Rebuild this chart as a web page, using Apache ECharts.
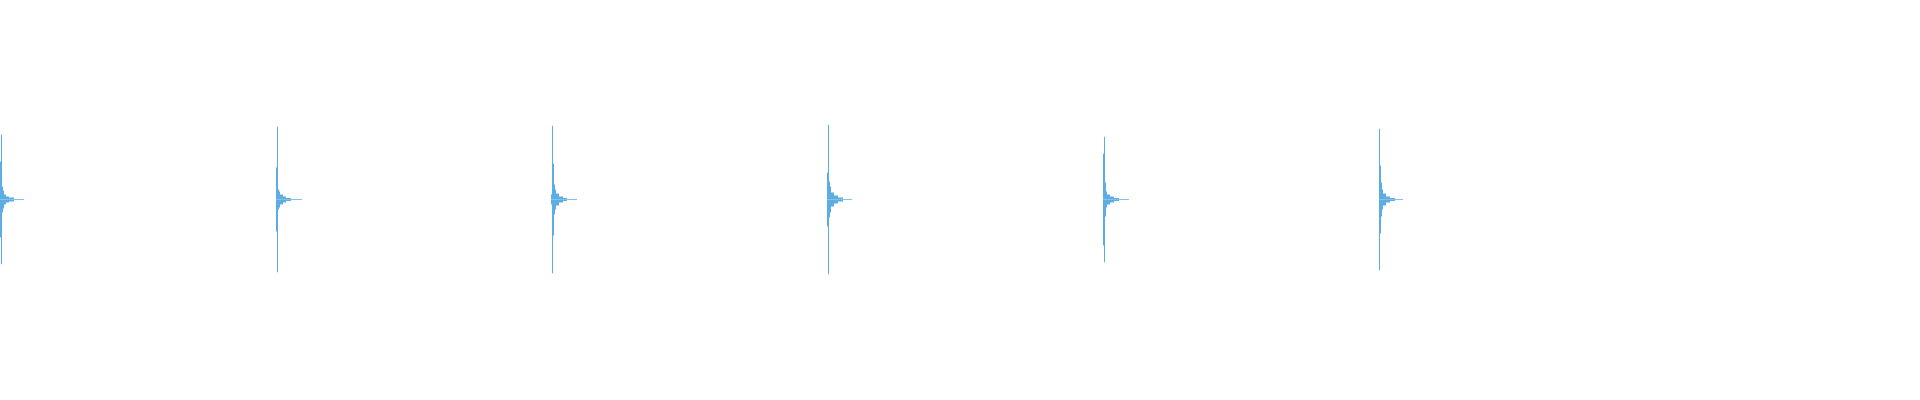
<!DOCTYPE html>
<html>
<head>
<meta charset="utf-8">
<script src="https://cdn.jsdelivr.net/npm/echarts@6/dist/echarts.min.js"></script>
<style>
  html, body { margin: 0; padding: 0; background: #ffffff; }
  #chart { width: 1920px; height: 400px; }
</style>
</head>
<body>
<div id="chart"></div>
<script>
// Waveform drawn as one bar per pixel column (peak envelope, symmetric about 0)
const totalColumns = 1920;

// first column of each hit
const hitStarts = [0, 276, 551, 827, 1103, 1379];

// peak amplitude per column for each hit (full scale = 1)
const hit1Amp = [0.19, 0.325, 0.065, 0.045, 0.025, 0.025, 0.015, 0.015, 0.015, 0.01, 0.01, 0.01, 0.01, 0.01,
  0.003, 0.003, 0.003, 0.003, 0.003, 0.003, 0.003, 0.003, 0.003, 0.003];
const hit2Amp = [0.16, 0.365, 0.05, 0.04, 0.025, 0.025, 0.025, 0.015, 0.015, 0.015, 0.0075, 0.0075, 0.0075, 0.0075, 0.0075,
  0.003, 0.003, 0.003, 0.003, 0.003, 0.003, 0.003, 0.003, 0.003, 0.003, 0.003];
const hit3Amp = [0.025, 0.37, 0.18, 0.075, 0.05, 0.03, 0.03, 0.03, 0.015, 0.015, 0.015, 0.015, 0.0075, 0.0075, 0.0075, 0.0075,
  0.003, 0.003, 0.003, 0.003, 0.003, 0.003, 0.003, 0.003, 0.003, 0.003];
const hit4Amp = [0.135, 0.375, 0.09, 0.065, 0.035, 0.035, 0.035, 0.02, 0.02, 0.02, 0.02, 0.01, 0.01, 0.01, 0.01, 0.01,
  0.003, 0.003, 0.003, 0.003, 0.003, 0.003, 0.003, 0.003, 0.003];
const hit5Amp = [0.23, 0.315, 0.085, 0.04, 0.025, 0.025, 0.025, 0.015, 0.015, 0.015, 0.015, 0.0075, 0.0075, 0.0075, 0.0075, 0.0075,
  0.003, 0.003, 0.003, 0.003, 0.003, 0.003, 0.003, 0.003, 0.003, 0.003];
const hit6Amp = [0.355, 0.17, 0.085, 0.05, 0.03, 0.03, 0.03, 0.015, 0.015, 0.015, 0.015, 0.0075, 0.0075, 0.0075, 0.0075, 0.0075,
  0.003, 0.003, 0.003, 0.003, 0.003, 0.003, 0.003, 0.003];

const hitAmps = [hit1Amp, hit2Amp, hit3Amp, hit4Amp, hit5Amp, hit6Amp];

// build per-column data
const columns = [];
const maxData = [];
const minData = [];
for (let i = 0; i < totalColumns; i++) {
  columns.push(i);
  maxData.push(0);
  minData.push(0);
}
hitStarts.forEach(function (start, h) {
  hitAmps[h].forEach(function (a, k) {
    maxData[start + k] = a;
    minData[start + k] = -a;
  });
});

const chart = echarts.init(document.getElementById('chart'), null, { renderer: 'canvas' });
chart.setOption({
  animation: false,
  backgroundColor: '#ffffff',
  grid: { left: 0, right: 0, top: 0, height: 399, containLabel: false },
  xAxis: {
    type: 'category',
    data: columns,
    show: false,
    boundaryGap: true
  },
  yAxis: {
    type: 'value',
    min: -1,
    max: 1,
    show: false
  },
  series: [
    {
      type: 'bar',
      data: maxData,
      barCategoryGap: '0%',
      barGap: '-100%',
      itemStyle: { color: '#5DADE2' },
      silent: true
    },
    {
      type: 'bar',
      data: minData,
      barCategoryGap: '0%',
      barGap: '-100%',
      itemStyle: { color: '#5DADE2' },
      silent: true
    }
  ]
});
</script>
</body>
</html>
